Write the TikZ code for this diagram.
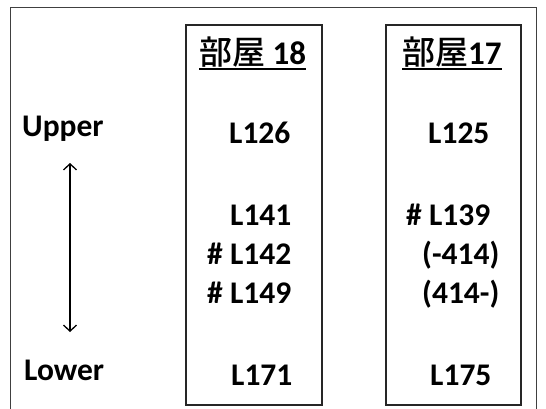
\documentclass[tikz,border=0pt]{standalone}
\usepackage{fontspec}
\setmainfont{Carlito}
\newfontfamily\cjk{Noto Sans CJK JP Medium}
\usetikzlibrary{arrows.meta}
\begin{document}
\begin{tikzpicture}[x=1pt,y=-1pt,
  lbl/.style={anchor=base west,inner sep=0pt,font=\fontsize{31.5}{31.5}\selectfont\bfseries},
  ttl/.style={anchor=base west,inner sep=0pt,font=\fontsize{33}{33}\selectfont},
  room/.style={draw=black!85,line width=1.5pt},
  frame/.style={draw=black!75,line width=1pt}]
\useasboundingbox (0,0) rectangle (546,409);
\fill[white] (0,0) rectangle (546,409);
% outer frame (bottom edge cut off)
\draw[frame] (10.5,420) -- (10.5,8) -- (536,8) -- (536,420);
% room boxes
\draw[room] (186,25) rectangle (322,405);
\draw[room] (386,25) rectangle (521,405);
% titles
\node[ttl] (t18) at (199,65) {{\cjk 部屋} \textbf{18}};
\node[ttl] (t17) at (402,65) {{\cjk 部屋}\textbf{17}};
\draw[line width=1.6pt] ([yshift=-4pt]t18.base west) -- ([yshift=-4pt]t18.base east);
\draw[line width=1.6pt] ([yshift=-4pt]t17.base west) -- ([yshift=-4pt]t17.base east);
% side labels
\node[lbl] (up) at (22,137) {Upper};
\node[lbl] (lo) at (24,380) {Lower};
\coordinate (atop) at (70,163);
\coordinate (abot) at (70,332);
\draw[line width=1.3pt,{Straight Barb[length=6pt,width=13pt]}-{Straight Barb[length=6pt,width=13pt]}] (atop) -- (abot);
% room 18
\node[lbl] (a1) at (229,143) {L126};
\node[lbl] (a2) at (230,225) {L141};
\node[lbl] (a3) at (207,264) {\# L142};
\node[lbl] (a4) at (207,303) {\# L149};
\node[lbl] (a5) at (231,385) {L171};
% room 17
\node[lbl] (b1) at (428,143) {L125};
\node[lbl] (b2) at (406,225) {\# L139};
\node[lbl] (b3) at (422,264) {(-414)};
\node[lbl] (b4) at (422,303) {(414-)};
\node[lbl] (b5) at (430,385) {L175};
\end{tikzpicture}
\end{document}
